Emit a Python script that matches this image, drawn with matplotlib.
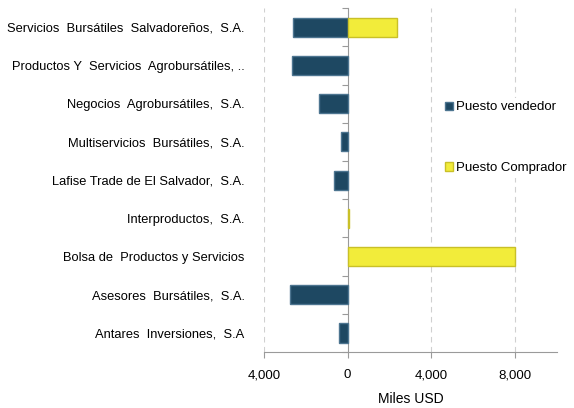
import matplotlib.pyplot as plt
from matplotlib.patches import Patch
from matplotlib.ticker import FuncFormatter, FixedLocator
import numpy as np

plt.rcParams['font.family'] = ['Liberation Sans', 'DejaVu Sans']

# data (Miles USD), top to bottom as shown
casas = ['Servicios  Bursátiles  Salvadoreños,  S.A.',
         'Productos Y  Servicios  Agrobursátiles, ..',
         'Negocios  Agrobursátiles,  S.A.',
         'Multiservicios  Bursátiles,  S.A.',
         'Lafise Trade de El Salvador,  S.A.',
         'Interproductos,  S.A.',
         'Bolsa de  Productos y Servicios',
         'Asesores  Bursátiles,  S.A.',
         'Antares  Inversiones,  S.A']
vendedor = [-2620, -2670, -1380, -330, -670, 0, 0, -2760, -430]
comprador = [2380, 0, 0, 0, 0, 60, 8000, 0, 0]

col_v = '#1e4862'
col_c = '#f2ec3a'
grey = '#9a9a9a'

fig = plt.figure(figsize=(5.74, 4.08), dpi=100)
ax = fig.add_axes([0.46, 0.137, 0.51, 0.843])

y = np.arange(len(casas))
v = np.array(vendedor)
c = np.array(comprador)
ax.barh(y[v != 0], v[v != 0], height=0.5, color=col_v, edgecolor='#4d7590',
        linewidth=1.0, zorder=3)
ax.barh(y[c != 0], c[c != 0], height=0.5, color=col_c, edgecolor='#c9c028',
        linewidth=1.0, zorder=3)

ax.set_xlim(-4000, 10000)
ax.set_ylim(len(casas) - 0.5, -0.5)
ax.set_xticks([-4000, 0, 4000, 8000])
ax.xaxis.set_major_formatter(FuncFormatter(lambda val, p: f'{abs(val):,.0f}'))
ax.tick_params(axis='x', length=4, color=grey, labelsize=9.5, pad=8.5)
ax.set_xlabel('Miles USD', fontsize=10, labelpad=7.5)

ax.set_yticks(y)
ax.set_yticklabels(casas, fontsize=9.3)
ax.tick_params(axis='y', length=0, pad=14)

for s in ['top', 'right', 'left']:
    ax.spines[s].set_visible(False)
ax.spines['bottom'].set_color(grey)

for gx in [-4000, 4000, 8000]:
    ax.axvline(gx, color='#d0d0d0', linestyle=(0, (5, 4)), linewidth=0.8, zorder=1)

# category axis at zero
sec = ax.secondary_yaxis(4000 / 14000)
sec.spines['left'].set_color(grey)
sec.yaxis.set_major_locator(FixedLocator(np.arange(-0.5, len(casas), 1.0)))
sec.tick_params(axis='y', length=4, color=grey, labelleft=False, labelright=False)

handles = [Patch(facecolor=col_v, edgecolor='#4d7590', label='Puesto vendedor'),
           Patch(facecolor=col_c, edgecolor='#c9c028', label='Puesto Comprador')]
leg = fig.legend(handles=handles, loc='center left', bbox_to_anchor=(441 / 574, 0.662),
                 fontsize=9.5, frameon=True, edgecolor='none', framealpha=1,
                 handlelength=0.6, handleheight=0.6, handletextpad=0.25, labelspacing=3.7,
                 borderpad=0.3, borderaxespad=0)

fig.savefig('out.png', dpi=100)
